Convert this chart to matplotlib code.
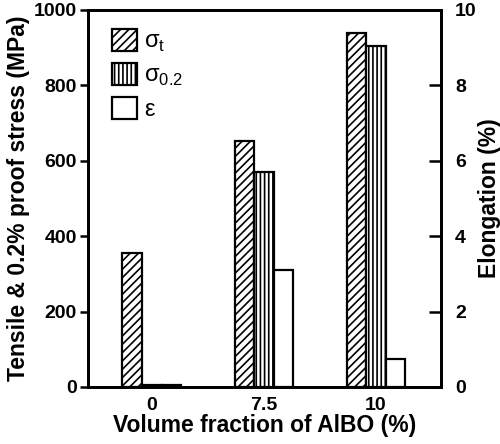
import numpy as np
import matplotlib
matplotlib.use("Agg")
import matplotlib.pyplot as plt

# values
fractions = ["0", "7.5", "10"]
tensile = [356, 651, 937]          # sigma_t (MPa)
proof = [6, 570, 903]              # sigma_0.2 (MPa)
elongation = [0.05, 3.1, 0.73]     # epsilon (%)
legend_labels = ['σ$_\\mathregular{t}$', 'σ$_\\mathregular{0.2}$', 'ε']

plt.rcParams['font.family'] = ['Liberation Sans', 'DejaVu Sans']
plt.rcParams['hatch.linewidth'] = 1.2

fig = plt.figure(figsize=(5.0, 4.44), dpi=100)
ax = fig.add_axes([0.176, 0.1284, 0.706, 0.850])
ax2 = ax.twinx()

x = np.arange(len(fractions))
w = 0.175
b1 = ax.bar(x - w, tensile, w, facecolor='white', edgecolor='black',
            hatch='////', linewidth=1.6)
b2 = ax.bar(x, proof, w, facecolor='white', edgecolor='black',
            hatch='||||', linewidth=1.6)
b3 = ax2.bar(x + w, elongation, w, facecolor='white', edgecolor='black',
             linewidth=1.6)

ax.set_xlim(-0.57, 2.58)
ax.set_ylim(0, 1000)
ax2.set_ylim(0, 10)
ax.set_xticks(x)
ax.set_xticklabels(fractions)
ax.set_yticks(np.arange(0, 1001, 200))
ax2.set_yticks(np.arange(0, 11, 2))

for a in (ax, ax2):
    for s in a.spines.values():
        s.set_linewidth(2.0)
ax.tick_params(axis='x', length=0, pad=7, labelsize=14)
ax.tick_params(axis='y', direction='out', length=6, width=1.8, pad=2,
               labelsize=14)
ax2.tick_params(axis='y', direction='in', length=9, width=1.8, pad=10,
                labelsize=14)
for lab in ax.get_xticklabels() + ax.get_yticklabels() + ax2.get_yticklabels():
    lab.set_fontweight('bold')

ax.set_xlabel('Volume fraction of AlBO (%)', fontsize=16.5, fontweight='bold',
              labelpad=0)
ax.set_ylabel('Tensile & 0.2% proof stress (MPa)', fontsize=16.5,
              fontweight='bold', labelpad=3)
ax2.set_ylabel('Elongation (%)', fontsize=16.5, fontweight='bold', labelpad=1)

leg = ax2.legend([b1, b2, b3], legend_labels,
                 loc='upper left', bbox_to_anchor=(0.224, 0.935),
                 bbox_transform=fig.transFigure, frameon=False, fontsize=17,
                 borderpad=0, borderaxespad=0, handlelength=1.05,
                 handleheight=1.05, labelspacing=0.38, handletextpad=0.3)

fig.savefig('out.png', dpi=100)
